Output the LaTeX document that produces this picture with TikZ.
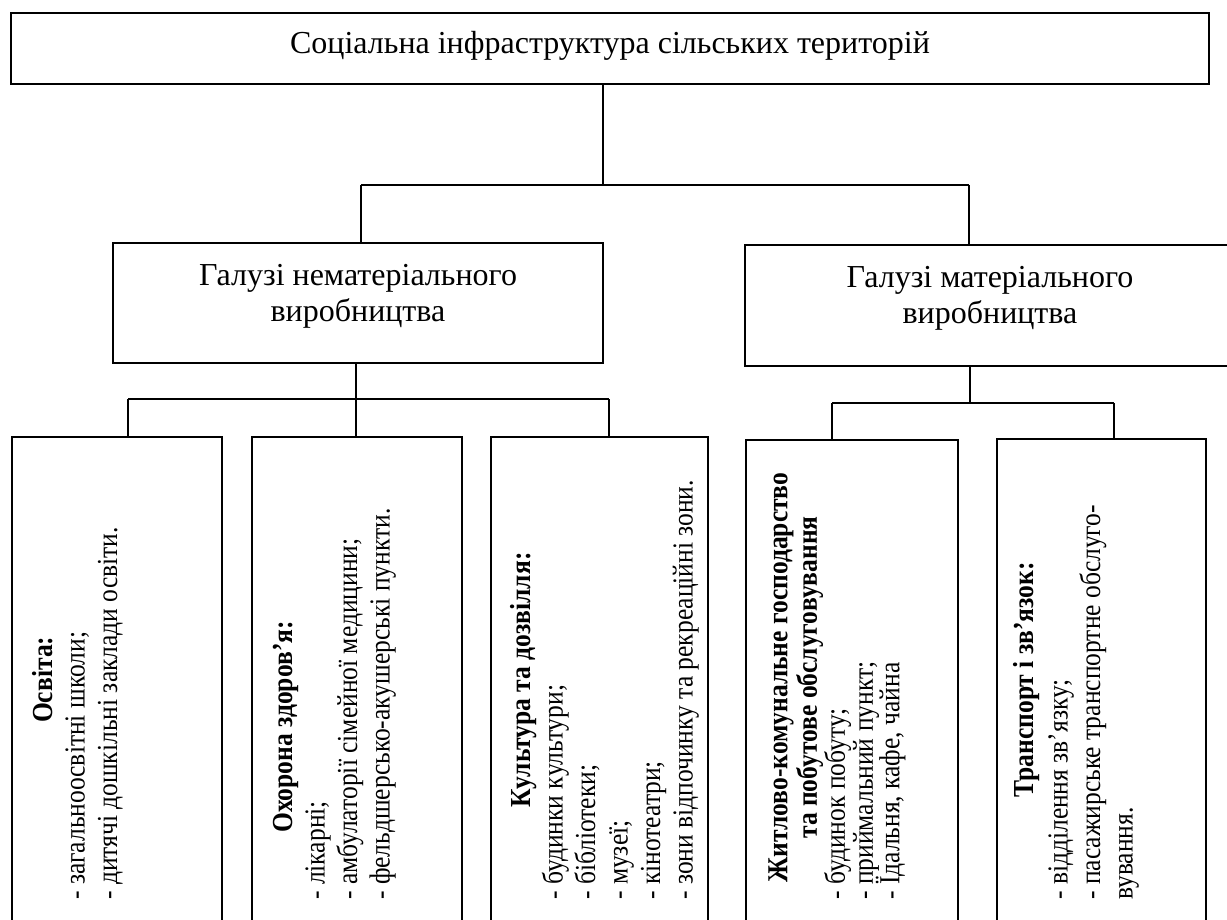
\documentclass[tikz,border=0pt]{standalone}
\usepackage{graphicx}
\usepackage{fontspec}
\setmainfont{Liberation Serif}
\newcommand{\cond}[1]{\scalebox{0.88}[1]{#1}}
\begin{document}
\begin{tikzpicture}[x=1pt,y=-1pt,
  box/.style={draw, line width=1.5pt, inner sep=0pt},
  conn/.style={line width=1.5pt},
  head/.style={inner sep=0pt, font=\fontsize{32}{36}\selectfont},
  item/.style={rotate=90, inner sep=0pt, anchor=north west,
    font=\fontsize{29}{32.5}\selectfont}]
\clip (0,0) rectangle (1227,919);
\fill[white] (0,0) rectangle (1227,919);
% boxes
\node[box, minimum width=1198pt, minimum height=71pt] (top) at (610,48.5) {};
\node[box, minimum width=490pt, minimum height=120pt] (L) at (358,303) {};
\node[box, minimum width=495pt, minimum height=121pt] (R) at (992.5,305.5) {};
\node[box, minimum width=210pt, minimum height=523pt] (b1) at (117,698.5) {};
\node[box, minimum width=210pt, minimum height=523pt] (b2) at (357,698.5) {};
\node[box, minimum width=217pt, minimum height=523pt] (b3) at (599.5,698.5) {};
\node[box, minimum width=212pt, minimum height=520pt] (b4) at (852,700) {};
\node[box, minimum width=209pt, minimum height=521pt] (b5) at (1101.5,699.5) {};
% texts of upper boxes
\node[head] (topt) at (610,46) {Соціальна інфраструктура сільських територій};
\node[head] (Lt) at (358,296) {\begin{tabular}{@{}c@{}}Галузі нематеріального\\виробництва\end{tabular}};
\node[head] (Rt) at (990,298) {\begin{tabular}{@{}c@{}}Галузі матеріального\\виробництва\end{tabular}};
% texts of bottom boxes
\node[item] (t1) at (29.2,900) {\cond{\begin{tabular}{@{}l@{}}\makebox[500pt][c]{\textbf{Освіта:}}\\- загальноосвітні школи;\\- дитячі дошкільні заклади освіти.\end{tabular}}};
\node[item] (t2) at (269.2,900) {\cond{\begin{tabular}{@{}l@{}}\makebox[500pt][c]{\textbf{Охорона здоров’я:}\hspace*{107pt}}\\- лікарні;\\- амбулаторії сімейної медицини;\\- фельдшерсько-акушерські пункти.\end{tabular}}};
\node[item] (t3) at (507.2,900) {\cond{\begin{tabular}{@{}l@{}}\makebox[500pt][c]{\textbf{Культура та дозвілля:}}\\- будинки культури;\\- бібліотеки;\\- музеї;\\- кінотеатри;\\- зони відпочинку та рекреаційні зони.\end{tabular}}};
\node[item, font=\fontsize{29}{29.5}\selectfont] (t4) at (766.4,900) {\cond{\begin{tabular}{@{}l@{}}\makebox[505pt][c]{\textbf{Житлово-комунальне господарство}}\\\makebox[505pt][c]{\textbf{та побутове обслуговування}}\\[-1.5pt]- будинок побуту;\\[-1.5pt]- приймальний пункт;\\[-6pt]- Їдальня,  кафе, чайна\end{tabular}}};
\node[item] (t5) at (1010.2,900) {\cond{\begin{tabular}{@{}l@{}}\makebox[500pt][c]{\textbf{Транспорт і зв’язок:}}\\[2pt]- відділення зв’язку;\\- пасажирське транспортне обслуго-\\вування.\end{tabular}}};
% connectors
\coordinate (jL) at (361,185);
\coordinate (jR) at (969,185);
\coordinate (jT) at (603,185);
\draw[conn] (top.south -| jT) -- (jT);
\draw[conn] (jL) -- (jR);
\draw[conn] (jL) -- (jL |- L.north);
\draw[conn] (jR) -- (jR |- R.north);
\coordinate (kM) at (356,399);
\coordinate (k1) at (128,399);
\coordinate (k3) at (609,399);
\draw[conn] (L.south -| kM) -- (kM |- b2.north);
\draw[conn] (k1) -- (k3);
\draw[conn] (k1) -- (k1 |- b1.north);
\draw[conn] (k3) -- (k3 |- b3.north);
\coordinate (mM) at (970,403);
\coordinate (m4) at (832,403);
\coordinate (m5) at (1114,403);
\draw[conn] (R.south -| mM) -- (mM);
\draw[conn] (m4) -- (m5);
\draw[conn] (m4) -- (m4 |- b4.north);
\draw[conn] (m5) -- (m5 |- b5.north);
\end{tikzpicture}
\end{document}
